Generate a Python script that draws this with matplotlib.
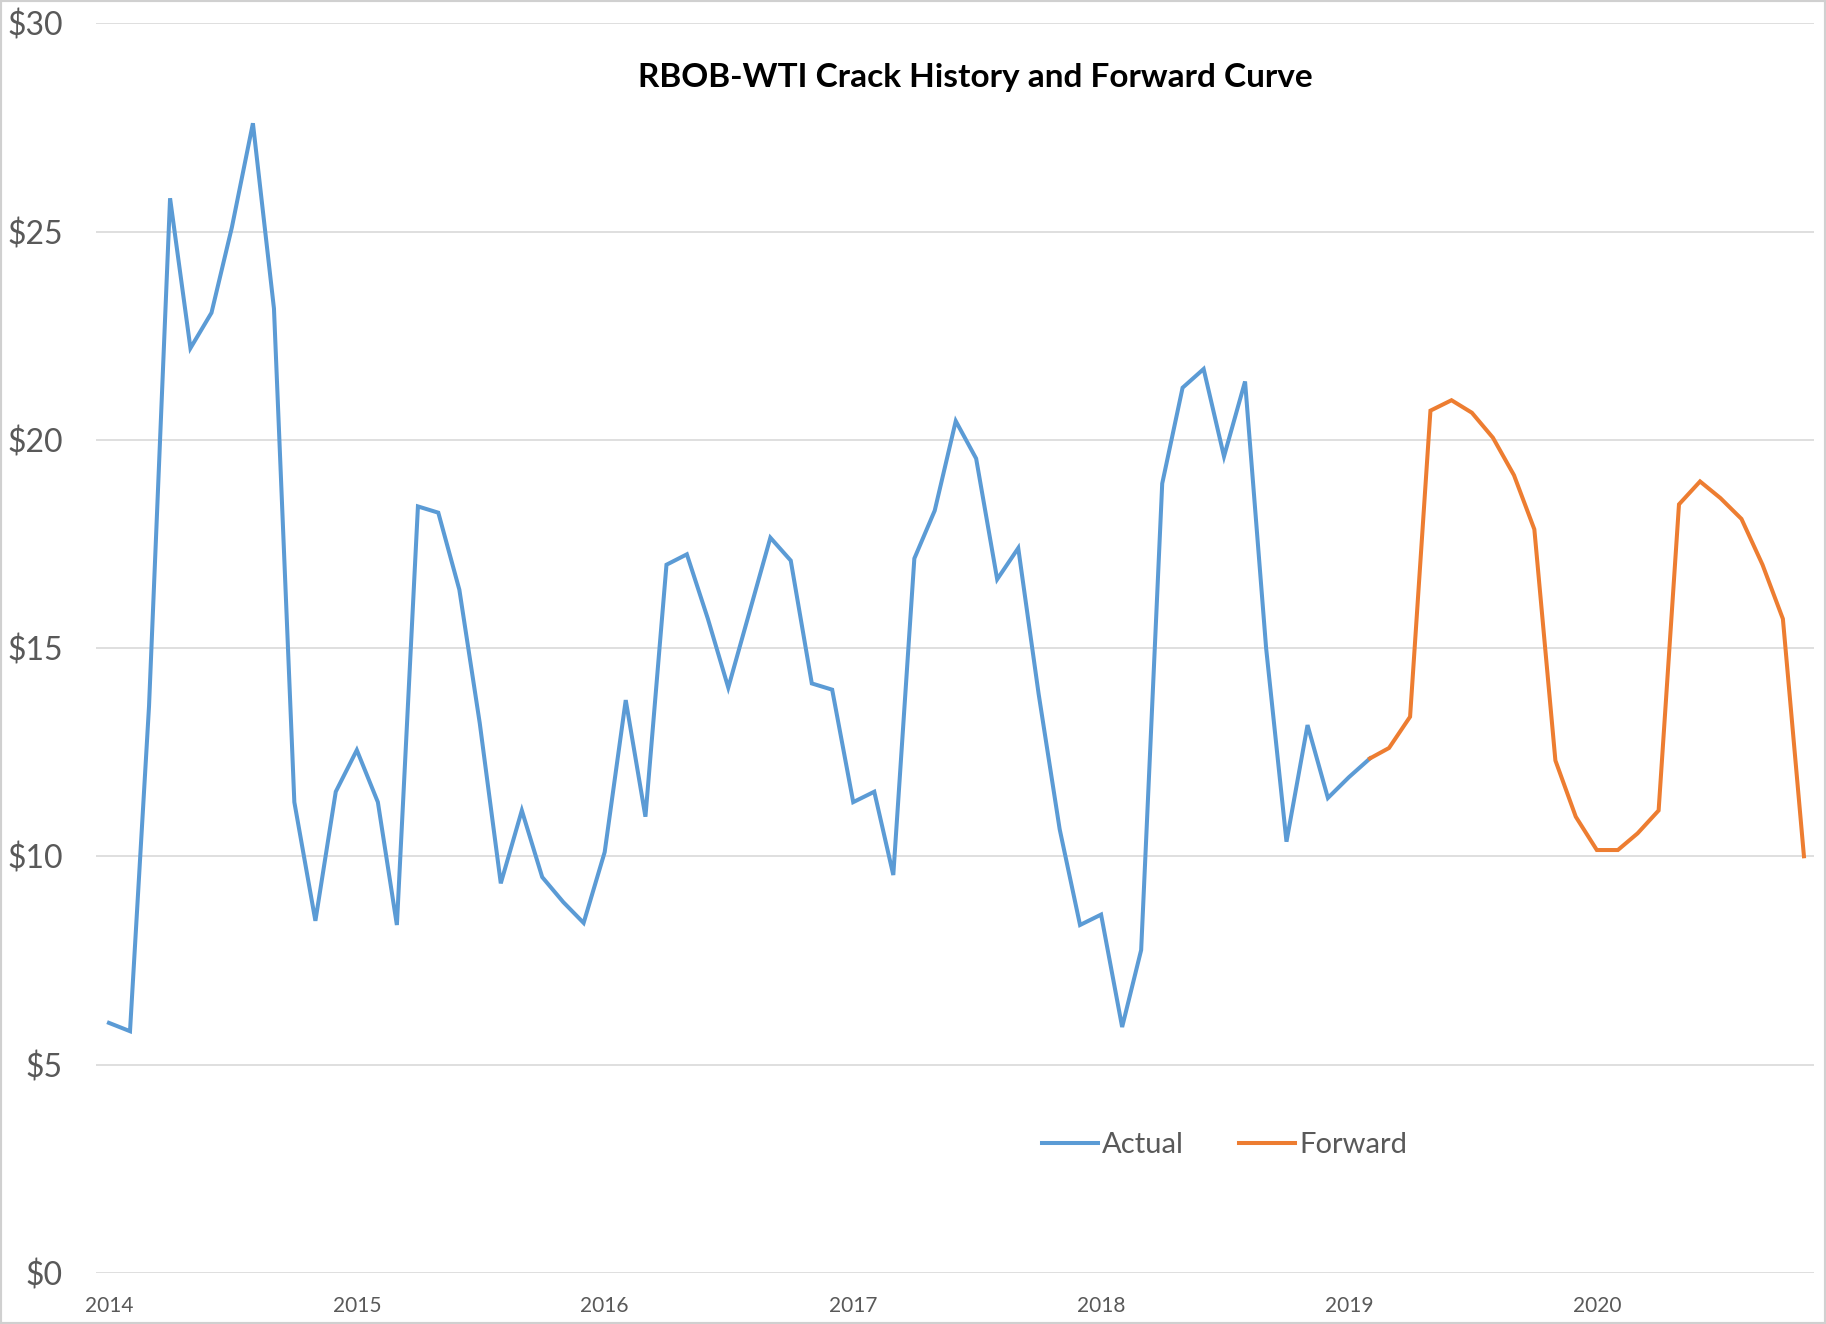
import pandas as pd
import matplotlib
matplotlib.use("Agg")
import matplotlib.pyplot as plt
import matplotlib.dates as mdates
from matplotlib.patches import Rectangle
from matplotlib.ticker import FuncFormatter, MultipleLocator

plt.rcParams["font.family"] = ["Lato", "DejaVu Sans"]

BLUE = "#5B9BD5"
ORANGE = "#ED7D31"
GRID = "#D9D9D9"
LABEL = "#595959"

# monthly RBOB-WTI crack, $/bbl
actual_start = "2014-01-01"
actual = [6.0, 5.8, 13.6, 25.8, 22.2, 23.05, 25.1, 27.6, 23.15, 11.3,
          8.45, 11.55, 12.55, 11.3, 8.35, 18.4, 18.25, 16.4, 13.2, 9.35,
          11.1, 9.5, 8.9, 8.4, 10.1, 13.75, 10.95, 17.0, 17.25, 15.7,
          14.05, 15.85, 17.65, 17.1, 14.15, 14.0, 11.3, 11.55, 9.55, 17.15,
          18.3, 20.45, 19.55, 16.65, 17.4, 13.9, 10.65, 8.35, 8.6, 5.9,
          7.75, 18.95, 21.25, 21.7, 19.6, 21.4, 15.0, 10.35, 13.15, 11.4,
          11.9, 12.35]

forward_start = "2019-02-01"
forward = [12.35, 12.6, 13.35, 20.7, 20.95, 20.65, 20.05, 19.15, 17.85, 12.3,
           10.95, 10.15, 10.15, 10.55, 11.1, 18.45, 19.0, 18.6, 18.1, 17.0,
           15.7, 10.0]

actual_dates = pd.date_range(actual_start, periods=len(actual), freq="MS")
forward_dates = pd.date_range(forward_start, periods=len(forward), freq="MS")

fig = plt.figure(figsize=(18.26, 13.24), dpi=100)
ax = fig.add_axes([0.0526, 0.0387, 0.9409, 0.9437])

ax.plot(actual_dates, actual, color=BLUE, lw=2.9, label="Actual", solid_joinstyle="miter")
ax.plot(forward_dates, forward, color=ORANGE, lw=2.9, label="Forward", solid_joinstyle="miter")

ax.set_ylim(0, 30)
ax.yaxis.set_major_locator(MultipleLocator(5))
ax.yaxis.set_major_formatter(FuncFormatter(lambda v, p: f"${v:.0f}"))
ax.set_xlim(pd.Timestamp("2013-12-13"), pd.Timestamp("2020-11-16"))
ax.xaxis.set_major_locator(mdates.YearLocator())
ax.xaxis.set_major_formatter(mdates.DateFormatter("%Y"))

ax.grid(axis="y", color=GRID, lw=1.2)
ax.set_axisbelow(True)
for s in ax.spines.values():
    s.set_visible(False)
ax.tick_params(axis="y", length=0, pad=24, labelsize=23, labelcolor=LABEL)
ax.tick_params(axis="x", length=0, pad=17, labelsize=15, labelcolor=LABEL)

fig.text(975 / 1826, 1 - 77 / 1324, "RBOB-WTI Crack History and Forward Curve",
         ha="center", va="center", fontsize=24, fontweight="bold", color="black")

ax.legend(loc="center", bbox_to_anchor=(0.657, 0.102), ncol=2, frameon=False,
          fontsize=21, labelcolor=LABEL, handlelength=1.9, handletextpad=0.15,
          columnspacing=1.9)

fig.patches.append(Rectangle((0, 0), 1, 1, transform=fig.transFigure, fill=False,
                             edgecolor="#D0D0D0", lw=3))

fig.savefig("out.png", dpi=100, facecolor="white")
